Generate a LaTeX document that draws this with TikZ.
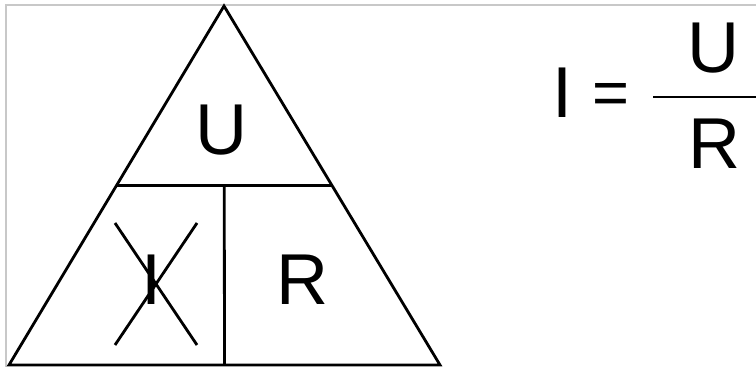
\documentclass[tikz,border=0pt]{standalone}
\usepackage{fontspec}
\setmainfont{Liberation Sans}
\usetikzlibrary{calc}
\definecolor{FrameGray}{RGB}{200,200,200}

\begin{document}
\begin{tikzpicture}[x=0.02cm,y=-0.02cm,
        edge/.style={draw=black,line width=1.6pt,line join=miter},
        letter/.style={inner sep=0pt,font=\fontsize{41}{41}\selectfont},
        frame/.style={draw=FrameGray,line width=0.6pt}
      ]
        \useasboundingbox (0,0) rectangle (756,367);
        % light frame of the screenshot
        \draw[frame] (6,367) -- (6,5) -- (756,5);
        % triangle
        \coordinate (top) at (224,6);
        \coordinate (bl)  at (9,365);
        \coordinate (br)  at (440,365);
        \coordinate (ml)  at ($(top)!0.5!(bl)$);
        \coordinate (mr)  at ($(top)!0.5!(br)$);
        \coordinate (mm)  at ($(ml)!0.5!(mr)$);
        \coordinate (mb)  at ($(bl)!0.5!(br)$);
        \draw[edge] (top) -- (bl) -- (br) -- cycle;
        \draw[edge] (ml) -- (mr);
        \draw[edge] (mm) -- (mb);
        \node[letter] (u) at (222,130) {U};
        \node[letter] (i) at (152,280) {I};
        \node[letter] (r) at (303,280) {R};
        % crossed out I
        \coordinate (xa) at (115,223);
        \coordinate (xb) at (197,345);
        \coordinate (xc) at (197,223);
        \coordinate (xd) at (115,345);
        \draw[edge] (xa) -- (xb);
        \draw[edge] (xc) -- (xd);
        % formula
        \node[letter] (fi)  at (562,93) {I};
        \node[letter,font=\fontsize{36}{36}\selectfont] (feq) at (611,99) {=};
        \node[letter] (fu)  at (713,48) {U};
        \node[letter] (fr)  at (714,144) {R};
        \coordinate (bara) at (653,97);
        \coordinate (barb) at (756,97);
        \draw[black,line width=1.7pt] (bara) -- (barb);
      \end{tikzpicture}
\end{document}
